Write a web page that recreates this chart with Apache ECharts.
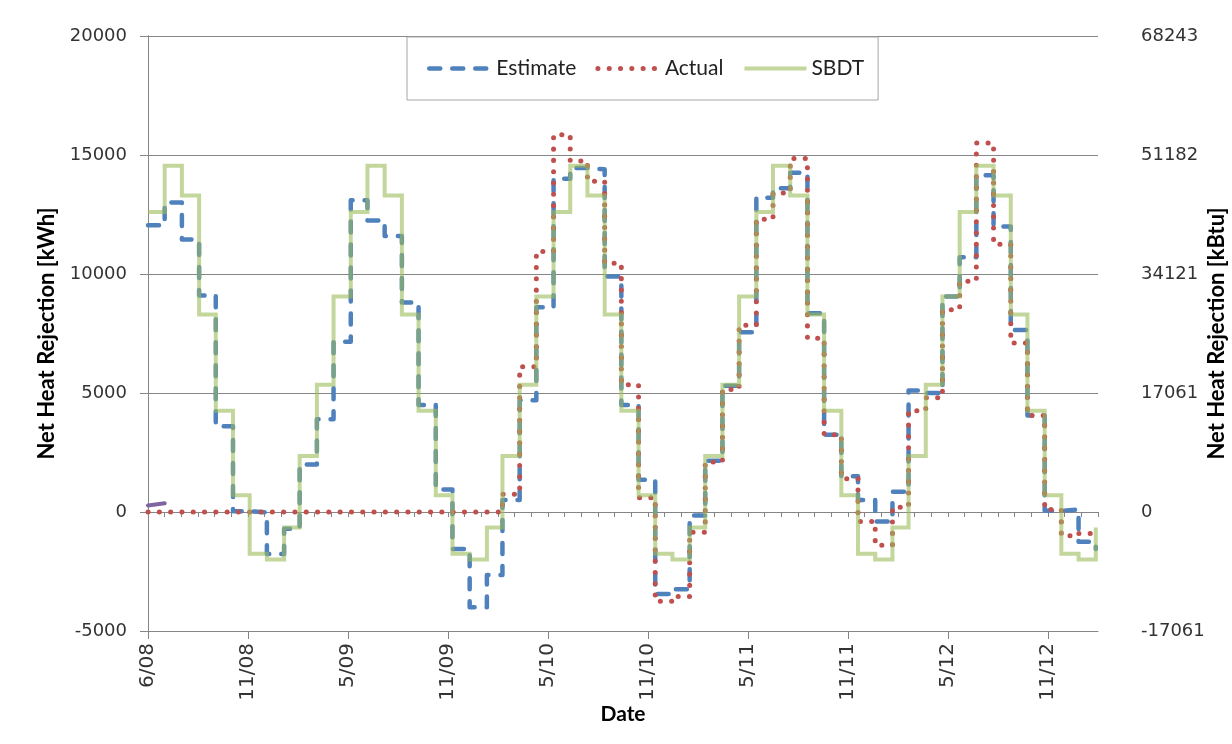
<!DOCTYPE html>
<html>
<head>
<meta charset="utf-8">
<script src="https://cdn.jsdelivr.net/npm/echarts@6/dist/echarts.min.js"></script>
<style>
  html, body { margin: 0; padding: 0; background: #ffffff; }
  #chart { width: 1232px; height: 744px; }
</style>
</head>
<body>
<div id="chart"></div>
<script>
// Monthly net heat rejection, June 2008 – February 2013 (kWh)
const months = [
  '2008-06','2008-07','2008-08','2008-09','2008-10','2008-11','2008-12',
  '2009-01','2009-02','2009-03','2009-04','2009-05','2009-06','2009-07','2009-08','2009-09','2009-10','2009-11','2009-12',
  '2010-01','2010-02','2010-03','2010-04','2010-05','2010-06','2010-07','2010-08','2010-09','2010-10','2010-11','2010-12',
  '2011-01','2011-02','2011-03','2011-04','2011-05','2011-06','2011-07','2011-08','2011-09','2011-10','2011-11','2011-12',
  '2012-01','2012-02','2012-03','2012-04','2012-05','2012-06','2012-07','2012-08','2012-09','2012-10','2012-11','2012-12',
  '2013-01','2013-02'
];

const estimate = [
  12050, 13000, 11450, 9100, 3600, 30, -20,
  -1760, -700, 2000, 3900, 7150, 13100, 12250, 11600, 8800, 4500, 950, -1550,
  -4000, -2650, 500, 4700, 8600, 14000, 14450, 14400, 9900, 4500, 1350, -3450,
  -3250, -150, 2150, 5300, 7550, 13200, 13600, 14250, 8350, 3250, 1500, 500,
  -400, 850, 5100, 5000, 9050, 10700, 14150, 12000, 7650, 4050, 50, 100,
  -1250, -1550
];

const actual = [
  0, 0, 0, 0, 0, 0, 0,
  0, 0, 0, 0, 0, 0, 0, 0, 0, 0, 0, 0,
  0, 0, 750, 6100, 10950, 15850, 14750, 13900, 10450, 5350, 600, -3750,
  -3550, -850, 2100, 5150, 7850, 12300, 13400, 14850, 7300, 3250, 1400, -400,
  -1400, 200, 4250, 4800, 8500, 9700, 15500, 11250, 7100, 4050, 100, -1000,
  -900, -1100
];

const sbdt = [
  12600, 14550, 13300, 8300, 4250, 700, -1750,
  -2000, -650, 2350, 5350, 9050, 12600, 14550, 13300, 8300, 4250, 700, -1750,
  -2000, -650, 2350, 5350, 9050, 12600, 14550, 13300, 8300, 4250, 700, -1750,
  -2000, -650, 2350, 5350, 9050, 12600, 14550, 13300, 8300, 4250, 700, -1750,
  -2000, -650, 2350, 5350, 9050, 12600, 14550, 13300, 8300, 4250, 700, -1750,
  -2000, -650
];

// Short baseline trace over the first two months
const baselineMonths = ['2008-06', '2008-07'];
const baseline = [270, 370];

// Axis tick labels
const dateTickLabels = ['6/08', '11/08', '5/09', '11/09', '5/10', '11/10', '5/11', '11/11', '5/12', '11/12'];
const kWhTickLabels = ['-5000', '0', '5000', '10000', '15000', '20000'];
const kBtuTickLabels = ['-17061', '0', '17061', '34121', '51182', '68243'];

// x positions: days elapsed since 1 June 2008
const DAY = 86400000;
const origin = Date.UTC(2008, 5, 1);
const dayOf = m => {
  const [y, mo] = m.split('-').map(Number);
  return (Date.UTC(y, mo - 1, 1) - origin) / DAY;
};
const pairs = (labels, vals) => vals.map((v, i) => [dayOf(labels[i]), v]);
const yIndex = v => Math.round((v + 5000) / 5000);

const AXIS_GREY = '#868686';
const BLUE = '#4F81BD', RED = '#C0504D', GREEN = '#9BBB59', PURPLE = '#8064A2';
const estimateLine = { color: BLUE, width: 4.5, type: [11, 12], cap: 'round', join: 'round' };
const actualLine = { color: RED, width: 5, type: [0.1, 11.2], cap: 'round', join: 'round' };
const sbdtLine = { color: GREEN, width: 4, opacity: 0.6, cap: 'butt', join: 'miter' };

const chart = echarts.init(document.getElementById('chart'), null, { renderer: 'canvas' });

chart.setOption({
  animation: false,
  backgroundColor: '#ffffff',
  grid: { left: 148, right: 134, top: 36, bottom: 113, outerBoundsMode: 'none', containLabel: false },
  legend: {
    data: [
      { name: 'Estimate', lineStyle: estimateLine },
      { name: 'Actual', lineStyle: actualLine },
      { name: 'SBDT', lineStyle: sbdtLine }
    ],
    left: 407, top: 37,
    itemWidth: 62, itemHeight: 14, itemGap: 19,
    padding: [21, 14, 21, 20],
    borderColor: '#A6A6A6', borderWidth: 1, backgroundColor: '#ffffff',
    itemStyle: { color: 'rgba(0,0,0,0)', borderColor: 'rgba(0,0,0,0)', borderWidth: 0, opacity: 0 },
    textStyle: { fontFamily: 'Lato', fontSize: 21, color: '#222222' }
  },
  xAxis: [
    {
      type: 'value', min: 0, max: 1710, interval: 180,
      name: 'Date', nameLocation: 'middle', nameGap: 73, nameMoveOverlap: false,
      nameTextStyle: { fontFamily: 'Lato', fontWeight: 'bold', fontSize: 21, color: '#000000' },
      axisLine: { show: true, onZero: false, lineStyle: { color: AXIS_GREY, width: 1 } },
      axisTick: { show: true, inside: false, length: 8, lineStyle: { color: AXIS_GREY } },
      axisLabel: {
        rotate: 90, margin: 12, showMaxLabel: false,
        fontFamily: 'DejaVu Sans', fontSize: 20, color: '#333333',
        formatter: v => dateTickLabels[Math.round(v / 180)] || ''
      },
      splitLine: { show: false }
    },
    {
      // monthly minor ticks
      type: 'value', min: 0, max: 1710, interval: 30, position: 'bottom',
      axisLine: { show: false },
      axisTick: { show: true, inside: false, length: 5, lineStyle: { color: AXIS_GREY } },
      axisLabel: { show: false },
      splitLine: { show: false }
    }
  ],
  yAxis: [
    {
      type: 'value', min: -5000, max: 20000, interval: 5000, position: 'left',
      name: 'Net Heat Rejection [kWh]', nameLocation: 'middle', nameRotate: 90, nameGap: 90,
      nameMoveOverlap: false,
      nameTextStyle: { fontFamily: 'Lato', fontWeight: 'bold', fontSize: 22, color: '#000000' },
      axisLine: { show: true, lineStyle: { color: AXIS_GREY, width: 1 } },
      axisTick: { show: true, inside: false, length: 8, lineStyle: { color: AXIS_GREY } },
      axisLabel: {
        margin: 21, fontFamily: 'DejaVu Sans', fontSize: 18, color: '#333333',
        formatter: v => kWhTickLabels[yIndex(v)]
      },
      splitLine: { show: true, lineStyle: { color: AXIS_GREY, width: 1 } }
    },
    {
      type: 'value', min: -5000, max: 20000, interval: 5000, position: 'right',
      name: 'Net Heat Rejection [kBtu]', nameLocation: 'middle', nameRotate: 90, nameGap: 108,
      nameMoveOverlap: false,
      nameTextStyle: { fontFamily: 'Lato', fontWeight: 'bold', fontSize: 22, color: '#000000' },
      axisLine: { show: true, lineStyle: { color: AXIS_GREY, width: 1 } },
      axisTick: { show: true, inside: false, length: 8, lineStyle: { color: AXIS_GREY } },
      axisLabel: {
        margin: 43, fontFamily: 'DejaVu Sans', fontSize: 18, color: '#333333',
        formatter: v => kBtuTickLabels[yIndex(v)]
      },
      splitLine: { show: false }
    }
  ],
  series: [
    {
      name: 'Estimate', type: 'line', step: 'end', symbol: 'none', showSymbol: false,
      data: pairs(months, estimate),
      itemStyle: { color: BLUE },
      lineStyle: estimateLine,
      z: 2
    },
    {
      name: 'Actual', type: 'line', step: 'end', symbol: 'none', showSymbol: false,
      data: pairs(months, actual),
      itemStyle: { color: RED },
      lineStyle: actualLine,
      z: 3
    },
    {
      name: 'SBDT', type: 'line', step: 'end', symbol: 'none', showSymbol: false,
      data: pairs(months, sbdt),
      itemStyle: { color: GREEN },
      lineStyle: sbdtLine,
      z: 4
    },
    {
      name: 'Baseline', type: 'line', symbol: 'none', showSymbol: false,
      data: pairs(baselineMonths, baseline),
      itemStyle: { color: PURPLE },
      lineStyle: { color: PURPLE, width: 4, cap: 'round' },
      z: 5
    }
  ]
});
</script>
</body>
</html>
